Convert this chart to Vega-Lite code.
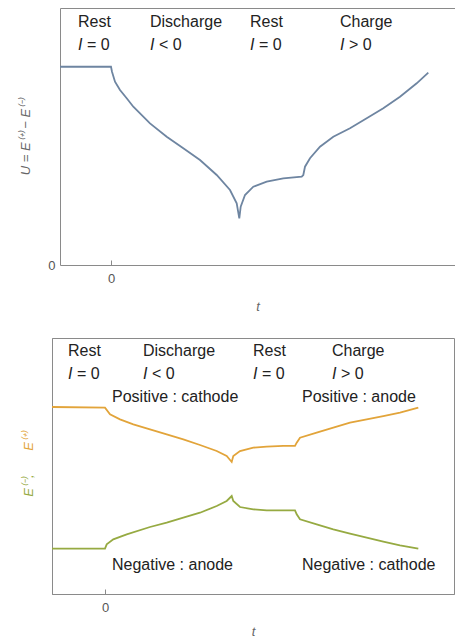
{
  "$schema": "https://vega.github.io/schema/vega-lite/v6.json",
  "padding": {"left": 19, "top": 8, "right": 0, "bottom": 0},
  "spacing": 24,
  "datasets": {
    "top": [
      {"t": -5.1, "U": 3.086}, {"t": 0, "U": 3.086}, {"t": 0.1, "U": 3.009}, {"t": 0.4, "U": 2.853},
      {"t": 0.9, "U": 2.724}, {"t": 1.57, "U": 2.595}, {"t": 2.23, "U": 2.464}, {"t": 3.9, "U": 2.205},
      {"t": 5.57, "U": 1.997}, {"t": 7.23, "U": 1.816}, {"t": 8.9, "U": 1.634}, {"t": 10.57, "U": 1.401},
      {"t": 11.9, "U": 1.167}, {"t": 12.57, "U": 0.96}, {"t": 12.83, "U": 0.727}, {"t": 12.97, "U": 0.907},
      {"t": 13.4, "U": 1.089}, {"t": 14.23, "U": 1.219}, {"t": 15.57, "U": 1.296}, {"t": 17.23, "U": 1.349},
      {"t": 19.07, "U": 1.374}, {"t": 19.23, "U": 1.401}, {"t": 19.4, "U": 1.53}, {"t": 19.9, "U": 1.661},
      {"t": 20.9, "U": 1.841}, {"t": 22.23, "U": 1.997}, {"t": 23.9, "U": 2.128}, {"t": 25.57, "U": 2.283},
      {"t": 27.23, "U": 2.439}, {"t": 28.9, "U": 2.619}, {"t": 30.57, "U": 2.828}, {"t": 31.73, "U": 2.993}
    ],
    "bottom": [
      {"s": "positive", "t": -5.3, "E": 2.922}, {"s": "positive", "t": 0, "E": 2.911}, {"s": "positive", "t": 0.5, "E": 2.807},
      {"s": "positive", "t": 1.5, "E": 2.729}, {"s": "positive", "t": 2.83, "E": 2.651}, {"s": "positive", "t": 4.5, "E": 2.573},
      {"s": "positive", "t": 6.17, "E": 2.495}, {"s": "positive", "t": 7.83, "E": 2.417}, {"s": "positive", "t": 9.5, "E": 2.328},
      {"s": "positive", "t": 11.17, "E": 2.234}, {"s": "positive", "t": 12.17, "E": 2.156}, {"s": "positive", "t": 12.67, "E": 2.063},
      {"s": "positive", "t": 12.83, "E": 2.156}, {"s": "positive", "t": 13.5, "E": 2.234}, {"s": "positive", "t": 14.83, "E": 2.286},
      {"s": "positive", "t": 16.17, "E": 2.302}, {"s": "positive", "t": 17.83, "E": 2.313}, {"s": "positive", "t": 19.0, "E": 2.313},
      {"s": "positive", "t": 19.17, "E": 2.364}, {"s": "positive", "t": 19.5, "E": 2.443}, {"s": "positive", "t": 21.17, "E": 2.521},
      {"s": "positive", "t": 22.83, "E": 2.599}, {"s": "positive", "t": 24.5, "E": 2.677}, {"s": "positive", "t": 26.17, "E": 2.729},
      {"s": "positive", "t": 27.83, "E": 2.781}, {"s": "positive", "t": 29.5, "E": 2.833}, {"s": "positive", "t": 31.33, "E": 2.911},
      {"s": "negative", "t": -5.3, "E": 0.708}, {"s": "negative", "t": 0, "E": 0.708}, {"s": "negative", "t": 0.17, "E": 0.776},
      {"s": "negative", "t": 0.83, "E": 0.854}, {"s": "negative", "t": 2.17, "E": 0.932}, {"s": "negative", "t": 4.5, "E": 1.047},
      {"s": "negative", "t": 6.17, "E": 1.114}, {"s": "negative", "t": 7.83, "E": 1.192}, {"s": "negative", "t": 9.5, "E": 1.27},
      {"s": "negative", "t": 11.17, "E": 1.375}, {"s": "negative", "t": 12.17, "E": 1.453}, {"s": "negative", "t": 12.67, "E": 1.531},
      {"s": "negative", "t": 12.83, "E": 1.453}, {"s": "negative", "t": 13.5, "E": 1.359}, {"s": "negative", "t": 14.83, "E": 1.323},
      {"s": "negative", "t": 16.17, "E": 1.308}, {"s": "negative", "t": 19.0, "E": 1.308}, {"s": "negative", "t": 19.17, "E": 1.245},
      {"s": "negative", "t": 19.5, "E": 1.167}, {"s": "negative", "t": 21.17, "E": 1.089}, {"s": "negative", "t": 22.83, "E": 1.011},
      {"s": "negative", "t": 24.5, "E": 0.943}, {"s": "negative", "t": 26.17, "E": 0.88}, {"s": "negative", "t": 27.83, "E": 0.818},
      {"s": "negative", "t": 29.5, "E": 0.761}, {"s": "negative", "t": 31.33, "E": 0.708}
    ],
    "topPhases": [
      {"t": -3.3, "U": 3.78, "label": "Rest"}, {"t": 3.9, "U": 3.78, "label": "Discharge"},
      {"t": 13.9, "U": 3.78, "label": "Rest"}, {"t": 22.9, "U": 3.78, "label": "Charge"}
    ],
    "topCurrents": [
      {"t": -3.3, "U": 3.42, "rel": "= 0"}, {"t": 3.9, "U": 3.42, "rel": "< 0"},
      {"t": 13.9, "U": 3.42, "rel": "= 0"}, {"t": 22.9, "U": 3.42, "rel": "> 0"}
    ],
    "bottomPhases": [
      {"t": -3.7, "E": 3.797, "label": "Rest"}, {"t": 3.8, "E": 3.797, "label": "Discharge"},
      {"t": 14.8, "E": 3.797, "label": "Rest"}, {"t": 22.7, "E": 3.797, "label": "Charge"},
      {"t": 0.7, "E": 3.078, "label": "Positive : cathode"}, {"t": 19.7, "E": 3.078, "label": "Positive : anode"},
      {"t": 0.7, "E": 0.453, "label": "Negative : anode"}, {"t": 19.7, "E": 0.453, "label": "Negative : cathode"}
    ],
    "bottomCurrents": [
      {"t": -3.7, "E": 3.438, "rel": "= 0"}, {"t": 3.8, "E": 3.438, "rel": "< 0"},
      {"t": 14.8, "E": 3.438, "rel": "= 0"}, {"t": 22.7, "E": 3.438, "rel": "> 0"}
    ]
  },
  "vconcat": [
    {
      "width": 403,
      "height": 257,
      "view": {"stroke": null},
      "resolve": {"axis": {"x": "independent", "y": "independent"}},
      "layer": [
        {
          "data": {"name": "top"},
          "mark": {"type": "line", "color": "#6e85a1", "strokeWidth": 1.8},
          "encoding": {
            "x": {"field": "t", "type": "quantitative",
              "scale": {"domain": [-5.1, 34.4], "range": [8, 403], "nice": false, "zero": false},
              "axis": {"values": [0], "tickSize": -5, "labelPadding": 12, "title": "t", "titlePadding": 15}},
            "y": {"field": "U", "type": "quantitative",
              "scale": {"domain": [0, 4], "nice": false},
              "axis": {"values": [0], "offset": -8, "ticks": false, "labelPadding": 5, "title": "U = E⁽⁺⁾ − E⁽⁻⁾", "titlePadding": 15}}
          }
        },
        {
          "data": {"name": "top"},
          "mark": {"type": "line", "opacity": 0},
          "encoding": {
            "x": {"field": "t", "type": "quantitative",
              "axis": {"orient": "top", "labels": false, "ticks": false, "title": null}},
            "y": {"field": "U", "type": "quantitative",
              "axis": {"orient": "right", "labels": false, "ticks": false, "title": null}}
          }
        },
        {
          "data": {"name": "topPhases"},
          "mark": {"type": "text", "align": "left", "baseline": "middle", "fontSize": 16, "color": "#222"},
          "encoding": {
            "x": {"field": "t", "type": "quantitative", "axis": null},
            "y": {"field": "U", "type": "quantitative", "axis": null},
            "text": {"field": "label"}
          }
        },
        {
          "data": {"name": "topCurrents"},
          "mark": {"type": "text", "align": "left", "baseline": "middle", "fontSize": 16, "fontStyle": "italic", "color": "#222"},
          "encoding": {
            "x": {"field": "t", "type": "quantitative", "axis": null},
            "y": {"field": "U", "type": "quantitative", "axis": null},
            "text": {"value": "I"}
          }
        },
        {
          "data": {"name": "topCurrents"},
          "mark": {"type": "text", "align": "left", "baseline": "middle", "fontSize": 16, "dx": 9, "color": "#222"},
          "encoding": {
            "x": {"field": "t", "type": "quantitative", "axis": null},
            "y": {"field": "U", "type": "quantitative", "axis": null},
            "text": {"field": "rel"}
          }
        }
      ]
    },
    {
      "width": 402,
      "height": 256,
      "resolve": {"axis": {"y": "independent"}},
      "layer": [
        {
          "data": {"name": "bottom"},
          "transform": [{"filter": "datum.s === 'positive'"}],
          "mark": {"type": "line", "color": "#e2a43a", "strokeWidth": 1.8},
          "encoding": {
            "x": {"field": "t", "type": "quantitative",
              "scale": {"domain": [-5.3, 34.9], "nice": false, "zero": false},
              "axis": {"values": [0], "tickSize": -5, "labelPadding": 12, "title": "t", "titlePadding": 11}},
            "y": {"field": "E", "type": "quantitative",
              "scale": {"domain": [0, 4], "nice": false},
              "axis": {"labels": false, "ticks": false, "title": "E⁽⁺⁾", "titleColor": "#e2a43a", "titleX": -24, "titleY": 103, "titleBaseline": "middle", "titleAlign": "center", "titleAngle": -90}}
          }
        },
        {
          "data": {"name": "bottom"},
          "transform": [{"filter": "datum.s === 'negative'"}],
          "mark": {"type": "line", "color": "#96aa42", "strokeWidth": 1.8},
          "encoding": {
            "x": {"field": "t", "type": "quantitative"},
            "y": {"field": "E", "type": "quantitative",
              "axis": {"orient": "left", "labels": false, "ticks": false, "domain": false, "title": "E⁽⁻⁾,", "titleColor": "#96aa42", "titleX": -24, "titleY": 147, "titleBaseline": "middle", "titleAlign": "center", "titleAngle": -90}}
          }
        },
        {
          "data": {"name": "bottomPhases"},
          "mark": {"type": "text", "align": "left", "baseline": "middle", "fontSize": 16, "color": "#222"},
          "encoding": {
            "x": {"field": "t", "type": "quantitative"},
            "y": {"field": "E", "type": "quantitative", "axis": null},
            "text": {"field": "label"}
          }
        },
        {
          "data": {"name": "bottomCurrents"},
          "mark": {"type": "text", "align": "left", "baseline": "middle", "fontSize": 16, "fontStyle": "italic", "color": "#222"},
          "encoding": {
            "x": {"field": "t", "type": "quantitative"},
            "y": {"field": "E", "type": "quantitative", "axis": null},
            "text": {"value": "I"}
          }
        },
        {
          "data": {"name": "bottomCurrents"},
          "mark": {"type": "text", "align": "left", "baseline": "middle", "fontSize": 16, "dx": 9, "color": "#222"},
          "encoding": {
            "x": {"field": "t", "type": "quantitative"},
            "y": {"field": "E", "type": "quantitative", "axis": null},
            "text": {"field": "rel"}
          }
        }
      ]
    }
  ],
  "config": {
    "font": "Liberation Sans",
    "view": {"stroke": "#8a8a8a"},
    "axis": {
      "grid": false,
      "domainColor": "#8a8a8a",
      "tickColor": "#8a8a8a",
      "labelColor": "#555",
      "labelFontSize": 13,
      "labelFont": "Liberation Sans",
      "titleFont": "Liberation Sans",
      "titleFontSize": 13,
      "titleColor": "#666",
      "titleFontStyle": "italic",
      "titleFontWeight": "normal"
    }
  }
}
